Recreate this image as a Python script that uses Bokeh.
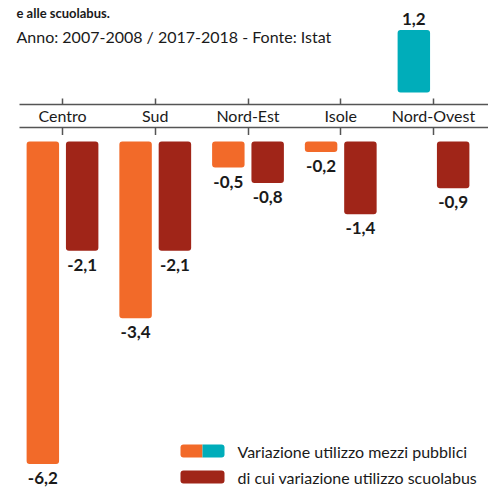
from bokeh.plotting import figure
from bokeh.layouts import column
from bokeh.models import Range1d, LinearAxis, FixedTicker, ColumnDataSource, Label
from bokeh.core.properties import value
from bokeh.embed import file_html
from bokeh.resources import INLINE

# ---------------- data ----------------
categories = ["Centro", "Sud", "Nord-Est", "Isole", "Nord-Ovest"]
mezzi_pubblici = [-6.2, -3.4, -0.5, -0.2, 1.2]
scuolabus = [-2.1, -2.1, -0.8, -1.4, -0.9]
legend_labels = ["Variazione utilizzo mezzi pubblici",
                 "di cui variazione utilizzo scuolabus"]
title_tail = "e alle scuolabus."
subtitle = "Anno: 2007-2008 / 2017-2018 - Fonte: Istat"

# ---------------- style ----------------
ORANGE = "#F26A29"
TEAL = "#00ADBA"
DARKRED = "#A02518"
AXIS = "#555555"
TXT = "#1a1a1a"
FONT = "Lato"
PX = 52.0            # pixels per unit of value
CAT = 92.75          # pixels per category
AX_LEFT = 19         # left end of the category axis lines
TOP_H = 137          # height of the upper figure
TOTAL_H = 493
ZERO_TOP = 92        # pixel of zero in the upper panel
ZERO_BOT = 143       # pixel of zero in the lower panel
BAR_W = 0.35
OFF = 0.212

def fmt(v):
    return f"{v:.1f}".replace(".", ",")

x_start = -62 / CAT
x_end = x_start + 488 / CAT
x_range = Range1d(x_start, x_end)

def gx(px):
    return x_start + px / CAT

idx = list(range(len(categories)))

# ---------------- upper panel (positive values + category axis) ----------------
top = figure(frame_width=488, frame_height=104, x_range=x_range,
             y_range=Range1d(-(104 - ZERO_TOP) / PX, ZERO_TOP / PX),
             x_axis_location=None, y_axis_location=None,
             toolbar_location=None, output_backend="svg",
             min_border_left=0, min_border_right=0, min_border_top=0,
             min_border_bottom=0, outline_line_color=None)
top.grid.visible = False

ticker = FixedTicker(ticks=idx, minor_ticks=[])
ax1 = LinearAxis(ticker=ticker, bounds=(gx(AX_LEFT), x_end),
                 major_label_overrides={i: c for i, c in enumerate(categories)},
                 major_tick_in=6, major_tick_out=0, minor_tick_line_color=None,
                 axis_line_color=AXIS, major_tick_line_color=AXIS,
                 axis_line_width=1.5, major_tick_line_width=1.5,
                 major_label_standoff=1, major_label_text_font=FONT,
                 major_label_text_font_size="16px", major_label_text_color=TXT)
ax2 = LinearAxis(ticker=ticker, bounds=(gx(AX_LEFT), x_end),
                 major_label_overrides={i: "" for i in idx},
                 major_tick_in=0, major_tick_out=8, minor_tick_line_color=None,
                 axis_line_color=AXIS, major_tick_line_color=AXIS,
                 axis_line_width=1.5, major_tick_line_width=1.5,
                 major_label_standoff=0, major_label_text_font_size="0px")
top.add_layout(ax1, "below")
top.add_layout(ax2, "below")

pos = [(i, v) for i, v in zip(idx, mezzi_pubblici) if v > 0]
src_pos = ColumnDataSource(dict(x=[i - OFF for i, v in pos], top=[v for i, v in pos],
                                lab=[fmt(v) for i, v in pos]))
top.vbar(x="x", top="top", bottom=0, width=BAR_W, source=src_pos,
         fill_color=TEAL, line_color=None, border_radius=3)
top.text(x="x", y="top", text="lab", source=src_pos, text_align="center",
         text_baseline="bottom", y_offset=-5, text_font=value(FONT),
         text_font_style="bold", text_font_size="17px", text_color=TXT)

top.add_layout(Label(x=gx(16), y=(ZERO_TOP - 12) / PX,
                     text=title_tail, text_font=FONT, text_font_style="bold",
                     text_font_size="13px", text_color=TXT,
                     text_baseline="alphabetic"))
top.add_layout(Label(x=gx(16), y=(ZERO_TOP - 36) / PX,
                     text=subtitle, text_font=FONT, text_font_size="16px",
                     text_color=TXT, text_baseline="middle"))

# ---------------- lower panel (negative values) ----------------
bot_h = TOTAL_H - TOP_H
y_end = (ZERO_BOT - TOP_H) / PX
y_start = y_end - bot_h / PX
bot = figure(frame_width=488, frame_height=bot_h, x_range=x_range,
             y_range=Range1d(y_start, y_end),
             x_axis_location=None, y_axis_location=None,
             toolbar_location=None, output_backend="svg",
             min_border_left=0, min_border_right=0, min_border_top=0,
             min_border_bottom=0, outline_line_color=None)
bot.grid.visible = False

neg = [(i, v) for i, v in zip(idx, mezzi_pubblici) if v < 0]
src_neg = ColumnDataSource(dict(x=[i - OFF for i, v in neg], bottom=[v for i, v in neg],
                                lab=[fmt(v) for i, v in neg]))
src_sb = ColumnDataSource(dict(x=[i + OFF for i in idx], bottom=scuolabus,
                               lab=[fmt(v) for v in scuolabus]))
for src, col in ((src_neg, ORANGE), (src_sb, DARKRED)):
    bot.vbar(x="x", top=0, bottom="bottom", width=BAR_W, source=src,
             fill_color=col, line_color=None, border_radius=3)
    bot.text(x="x", y="bottom", text="lab", source=src, text_align="center",
             text_baseline="top", y_offset=8, text_font=value(FONT),
             text_font_style="bold", text_font_size="17px", text_color=TXT)

# legend (drawn by hand to get the split orange/teal swatch)
def gy(py):
    return y_end - (py - TOP_H) / PX

bot.quad(left=[gx(180)], right=[gx(202)], top=[gy(446)], bottom=[gy(459)],
         fill_color=ORANGE, line_color=None, border_radius=(3, 0, 0, 3))
bot.quad(left=[gx(202)], right=[gx(224)], top=[gy(446)], bottom=[gy(459)],
         fill_color=TEAL, line_color=None, border_radius=(0, 3, 3, 0))
bot.quad(left=[gx(180)], right=[gx(224)], top=[gy(472)], bottom=[gy(485)],
         fill_color=DARKRED, line_color=None, border_radius=3)
bot.text(x=[gx(237), gx(237)], y=[gy(452.5), gy(478.5)], text=legend_labels,
         text_align="left", text_baseline="middle", text_font=value(FONT),
         text_font_size="16px", text_color=TXT)

layout = column(top, bot, spacing=0)
open("out.html", "w").write(file_html(layout, INLINE))
